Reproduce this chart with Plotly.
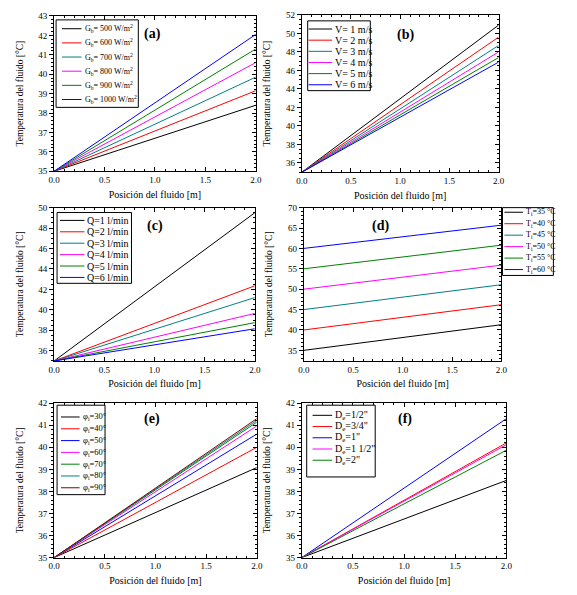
import plotly.graph_objects as go

# window size and page offset (default body margin of the html page)
WIN_W, WIN_H = 577, 595
OFF = 8
W, H = WIN_W - OFF, WIN_H - OFF

# ---------------- data ----------------
x_pos = [0.0, 2.0]

# (a) irradiance
a_labels = ["G<sub>b</sub>= 500 W/m<sup>2</sup>", "G<sub>b</sub>= 600 W/m<sup>2</sup>",
            "G<sub>b</sub>= 700 W/m<sup>2</sup>", "G<sub>b</sub>= 800 W/m<sup>2</sup>",
            "G<sub>b</sub>= 900 W/m<sup>2</sup>", "G<sub>b</sub>= 1000 W/m<sup>2</sup>"]
a_start = [35, 35, 35, 35, 35, 35]
a_end = [38.4, 39.15, 39.85, 40.6, 41.3, 42.05]

# (b) velocity
b_labels = ["V= 1 m/s", "V= 2 m/s", "V= 3 m/s", "V= 4 m/s", "V= 5 m/s", "V= 6 m/s"]
b_start = [35, 35, 35, 35, 35, 35]
b_end = [50.9, 49.6, 48.7, 48.0, 47.4, 46.9]

# (c) flow
c_labels = ["Q=1 l/min", "Q=2 l/min", "Q=3 l/min", "Q=4 l/min", "Q=5 l/min", "Q=6 l/min"]
c_start = [35, 35, 35, 35, 35, 35]
c_end = [49.5, 42.35, 41.2, 39.65, 38.75, 38.15]

# (d) inlet temperature
d_labels = ["T<sub>i</sub>=35 °C", "T<sub>i</sub>=40 °C", "T<sub>i</sub>=45 °C",
            "T<sub>i</sub>=50 °C", "T<sub>i</sub>=55 °C", "T<sub>i</sub>=60 °C"]
d_start = [35, 40, 45, 50, 55, 60]
d_end = [41.3, 46.2, 51.1, 55.9, 60.8, 65.7]

# (e) angle
e_labels = ["φ<sub>i</sub>=30°", "φ<sub>i</sub>=40°", "φ<sub>i</sub>=50°", "φ<sub>i</sub>=60°",
            "φ<sub>i</sub>=70°", "φ<sub>i</sub>=80°", "φ<sub>i</sub>=90°"]
e_start = [35, 35, 35, 35, 35, 35, 35]
e_end = [39.08, 40.0, 40.6, 40.97, 41.14, 41.22, 41.3]

# (f) diameter
f_labels = ["D<sub>e</sub>=1/2\"", "D<sub>e</sub>=3/4\"", "D<sub>e</sub>=1\"",
            "D<sub>e</sub>=1 1/2\"", "D<sub>e</sub>=2\""]
f_start = [35, 35, 35, 35, 35]
f_end = [38.5, 40.2, 41.3, 40.12, 39.87]

# ---------------- styles ----------------
C6 = ["#000000", "#FF0000", "#008080", "#FF00FF", "#008000", "#0000FF"]
C_e = ["#000000", "#FF0000", "#0000FF", "#FF00FF", "#008000", "#008080", "#800000"]
C_f = ["#000000", "#FF0000", "#0000FF", "#FF00FF", "#008000"]
FONT = "Liberation Serif, Times New Roman, serif"

# per panel: label, names, start, end, colors, plot box px (x0,x1,y0,y1), yrange, dtick, tick0,
# legend box px (x0,y0,x1,y1), first row y, row step, sample x0, sample x1, legend font, panel-label pos
panels = [
    ("(a)", a_labels, a_start, a_end, C6, (49, 255, 11, 169), [35, 43], 1, 35,
     (51, 15, 135, 104), 24, 14.4, 57, 77, 8, (149, 29)),
    ("(b)", b_labels, b_start, b_end, C6, (302, 503, 10, 170), [35, 52], 2, 36,
     (308, 16, 372, 87), 24.3, 11.34, 309, 333, 10, (408, 30)),
    ("(c)", c_labels, c_start, c_end, C6, (49, 254, 206, 362), [35, 50], 2, 36,
     (52, 211, 128, 283), 219, 11.6, 55, 80, 10, (152, 225)),
    ("(d)", d_labels, d_start, d_end, C6, (304, 506, 206, 362), [32.4, 70], 5, 35,
     (507, 206, 559, 275), 210.7, 11.66, 509, 528, 8, (382, 225)),
    ("(e)", e_labels, e_start, e_end, C_e, (49, 256, 405, 562), [35, 42], 1, 35,
     (52, 407, 101, 498), 419, 12.0, 56, 75, 8.5, (149, 421)),
    ("(f)", f_labels, f_start, f_end, C_f, (302, 511, 405, 562), [35, 42], 1, 35,
     (307, 407, 377, 480), 417.3, 11.42, 313, 333, 10, (407, 421)),
]

fig = go.Figure()
layout = dict(
    width=W, height=H, margin=dict(l=0, r=0, t=0, b=0),
    paper_bgcolor="white", plot_bgcolor="white",
    font=dict(family=FONT, size=9, color="black"),
    showlegend=False, annotations=[], shapes=[],
)


def px(xp):
    return (xp - OFF) / W


def py(yp):
    return 1 - (yp - OFF) / H


NP = len(panels)
for i, (lab, names, st, en, cols, box, yr, dt, t0, lbox, ly0, lstep, lx0, lx1, lfs, ppos) in enumerate(panels):
    n = i + 1
    xa = "x" if n == 1 else f"x{n}"
    ya = "y" if n == 1 else f"y{n}"
    for name, s, e, c in zip(names, st, en, cols):
        fig.add_trace(go.Scatter(
            x=x_pos, y=[s, e], mode="lines", name=name,
            line=dict(color=c, width=1), xaxis=xa, yaxis=ya,
        ))
    x0, x1, y0, y1 = box
    base = dict(
        showline=True, linecolor="black", linewidth=1,
        ticklen=4, tickcolor="black", tickwidth=1,
        showgrid=False, zeroline=False,
        tickfont=dict(family=FONT, size=9),
    )
    # bottom x axis: ticks inside, mirrored inside on top
    layout["xaxis" if n == 1 else f"xaxis{n}"] = dict(
        base, mirror="ticks", ticks="inside",
        minor=dict(ticks="inside", ticklen=2, tickcolor="black", showgrid=False),
        domain=[px(x0), px(x1)], range=[0, 2], dtick=0.5, tick0=0,
        tickformat=".1f", anchor=ya,
        title=dict(text="Posición del fluido [m]", font=dict(family=FONT, size=10), standoff=6),
    )
    # left y axis: ticks outside
    layout["yaxis" if n == 1 else f"yaxis{n}"] = dict(
        base, mirror=True, ticks="outside",
        minor=dict(ticks="outside", ticklen=2, tickcolor="black", showgrid=False),
        domain=[py(y1), py(y0)], range=yr, dtick=dt, tick0=t0,
        anchor=xa,
        title=dict(text="Temperatura del fluido [°C]", font=dict(family=FONT, size=9.5), standoff=13),
    )
    # right y axis (frame ticks, pointing inward)
    m = NP + n
    layout[f"yaxis{m}"] = dict(
        base, showticklabels=False, ticks="inside", side="right",
        minor=dict(ticks="inside", ticklen=2, tickcolor="black", showgrid=False),
        overlaying=ya, anchor=xa, range=yr, dtick=dt, tick0=t0,
    )
    fig.add_trace(go.Scatter(
        x=[None], y=[None], xaxis=xa, yaxis=f"y{m}", hoverinfo="skip", showlegend=False,
    ))
    # legend frame
    bx0, by0, bx1, by1 = lbox
    layout["shapes"].append(dict(
        type="rect", xref="paper", yref="paper", x0=px(bx0), x1=px(bx1), y0=py(by1), y1=py(by0),
        line=dict(color="black", width=1), fillcolor="white", layer="above",
    ))
    for k, (name, c) in enumerate(zip(names, cols)):
        yy = ly0 + k * lstep
        layout["shapes"].append(dict(
            type="line", xref="paper", yref="paper", x0=px(lx0), x1=px(lx1), y0=py(yy), y1=py(yy),
            line=dict(color=c, width=1), layer="above",
        ))
        layout["annotations"].append(dict(
            text=name, x=px(lx1 + 1), y=py(yy), xref="paper", yref="paper",
            xanchor="left", yanchor="middle", showarrow=False,
            font=dict(family=FONT, size=lfs, color="black"),
        ))
    layout["annotations"].append(dict(
        text=f"<b>{lab}</b>", x=px(ppos[0]), y=py(ppos[1]), xref="paper", yref="paper",
        xanchor="center", yanchor="middle",
        showarrow=False, font=dict(family=FONT, size=14, color="black"),
    ))

fig.update_layout(**layout)
fig.write_html("out.html")
